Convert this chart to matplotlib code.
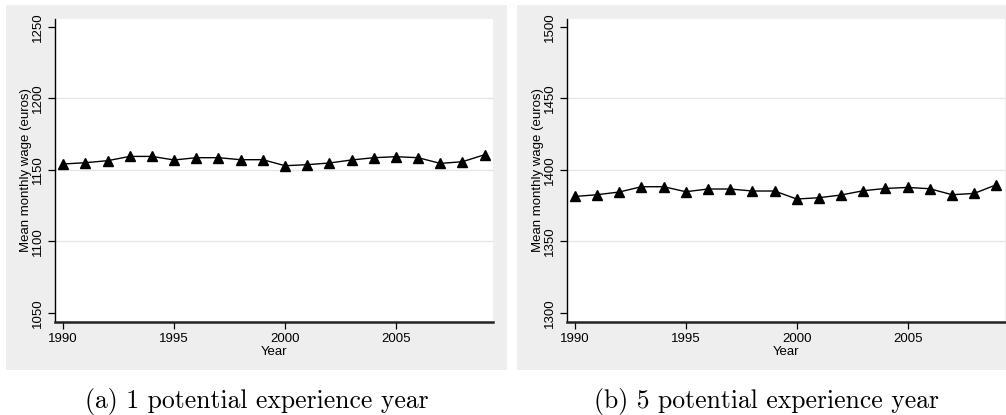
import matplotlib
matplotlib.use("Agg")
import matplotlib.pyplot as plt
from matplotlib.patches import Rectangle

# Mean monthly wage by year, for two levels of potential experience
years = list(range(1990, 2010))
wage_exp1 = [1154.2, 1155.1, 1156.5, 1159.5, 1159.5, 1157.0, 1158.6, 1158.6, 1157.2, 1157.2,
             1153.0, 1153.7, 1154.9, 1157.0, 1158.6, 1159.3, 1158.6, 1154.6, 1155.8, 1160.7]
wage_exp5 = [1381.5, 1382.7, 1384.6, 1388.3, 1388.3, 1384.8, 1386.7, 1386.7, 1385.3, 1385.3,
             1379.7, 1380.6, 1382.5, 1385.5, 1387.1, 1387.8, 1386.9, 1382.7, 1383.6, 1389.7]

x_ticks = [1990, 1995, 2000, 2005]
y_ticks_exp1 = [1050, 1100, 1150, 1200, 1250]
y_ticks_exp5 = [1300, 1350, 1400, 1450, 1500]
captions = ["(a) 1 potential experience year", "(b) 5 potential experience year"]

W, H = 1006, 415
fig = plt.figure(figsize=(W / 100, H / 100), dpi=100)
fig.patch.set_facecolor("white")

def fx(px):
    return px / W

def fy(py):
    return 1 - py / H

tick_font = {"family": "Liberation Sans", "size": 9.5}

def panel(gray_left, gray_right, ax_left, ax_right, values, yticks, caption, cap_x):
    # light gray plot region behind the axes
    fig.patches.append(Rectangle((fx(gray_left), fy(370)), fx(gray_right - gray_left), (370 - 5) / H,
                                 transform=fig.transFigure, facecolor="#eeeeee",
                                 edgecolor="none", zorder=0))
    ax = fig.add_axes([fx(ax_left), fy(321.7), fx(ax_right - ax_left), (321.7 - 19) / H])
    ax.set_facecolor("white")
    ax.set_zorder(1)
    lo, hi = yticks[0], yticks[-1]
    span = hi - lo
    ax.set_ylim(lo - span * 0.0305, hi + span * 0.028)
    ax.set_xlim(1989.63, 2009.39)
    for yv in yticks[1:-1]:
        ax.axhline(yv, color="#e6e6e6", lw=1.0, zorder=1)
    ax.plot(years, values, color="black", lw=1.0, marker="^", markersize=6.5,
            markerfacecolor="black", markeredgecolor="black", zorder=3)
    ax.set_xticks(x_ticks)
    ax.set_yticks(yticks)
    ax.set_xticklabels([str(t) for t in x_ticks], fontdict=tick_font)
    ax.set_yticklabels([str(t) for t in yticks], fontdict=tick_font, rotation=90, va="center")
    ax.tick_params(axis="both", length=5, width=0.9, color="black", pad=3)
    for s in ("top", "right"):
        ax.spines[s].set_visible(False)
    ax.spines["left"].set_linewidth(1.0)
    ax.spines["bottom"].set_linewidth(1.8)
    ax.spines["left"].set_color("black")
    ax.spines["bottom"].set_color("#222222")
    ax.set_ylabel("Mean monthly wage (euros)", fontdict=tick_font, labelpad=0)
    ax.set_xlabel("Year", fontdict=tick_font, labelpad=0.5)
    fig.text(fx(cap_x), fy(401), caption, family="cmr10", fontsize=18.5,
             ha="center", va="center")
    return ax

panel(6, 507, 55, 493.3, wage_exp1, y_ticks_exp1, captions[0], 257)
panel(517, 1030, 566.7, 1005, wage_exp5, y_ticks_exp5, captions[1], 767)

fig.savefig("out.png", dpi=100)
